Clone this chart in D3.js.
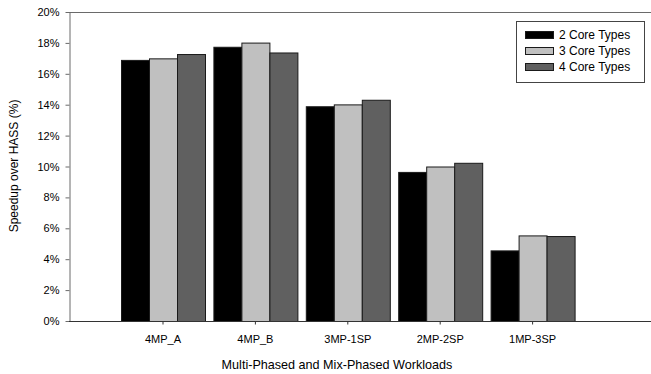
<!DOCTYPE html>
<html>
<head>
<meta charset="utf-8">
<script src="https://cdn.jsdelivr.net/npm/d3@7"></script>
<style>
  body { margin: 0; background: #fff; }
  text { font-family: "Liberation Sans", Arial, sans-serif; fill: #000; }
</style>
</head>
<body>
<script>
var workloads = ["4MP_A", "4MP_B", "3MP-1SP", "2MP-2SP", "1MP-3SP"];
var seriesNames = ["2 Core Types", "3 Core Types", "4 Core Types"];
var twoCore   = [16.9, 17.75, 13.9, 9.65, 4.57];
var threeCore = [17.0, 18.02, 14.02, 10.0, 5.54];
var fourCore  = [17.28, 17.38, 14.32, 10.24, 5.5];
var yTicks = [0, 2, 4, 6, 8, 10, 12, 14, 16, 18, 20];
var fills = ["#000000", "#c0c0c0", "#606060"];

var svg = d3.select("body").append("svg")
    .attr("width", 651)
    .attr("height", 374);

var plotLeft = 69, plotTop = 12, plotBottom = 321, plotRight = 651;

var x = d3.scaleBand()
    .domain(workloads)
    .range([116.8, 578.8])
    .paddingInner(0.0909)
    .paddingOuter(0.0455);

var xs = d3.scaleBand()
    .domain(d3.range(3))
    .range([0, x.bandwidth()]);

var y = d3.scaleLinear().domain([0, 20]).range([plotBottom, plotTop]);

var data = workloads.map(function(w, i) {
  return {name: w, values: [twoCore[i], threeCore[i], fourCore[i]]};
});

// top frame line
svg.append("line")
    .attr("x1", plotLeft).attr("x2", plotRight)
    .attr("y1", plotTop + 0.5).attr("y2", plotTop + 0.5)
    .attr("stroke", "#6a6a6a");

// bars
var group = svg.selectAll(".grp")
    .data(data)
  .enter().append("g")
    .attr("class", "grp")
    .attr("transform", function(d) { return "translate(" + x(d.name) + ",0)"; });

group.selectAll("rect")
    .data(function(d) { return d.values; })
  .enter().append("rect")
    .attr("x", function(d, i) { return xs(i) + 0.5; })
    .attr("y", function(d) { return y(d) + 0.5; })
    .attr("width", xs.bandwidth())
    .attr("height", function(d) { return plotBottom - y(d); })
    .attr("fill", function(d, i) { return fills[i]; })
    .attr("stroke", "#1a1a1a")
    .attr("stroke-width", 1);

// y axis
var yAxis = svg.append("g")
    .attr("transform", "translate(" + (plotLeft + 0.5) + ",0)")
    .call(d3.axisLeft(y).tickValues(yTicks).tickSize(4).tickSizeOuter(0)
      .tickFormat(function(d) { return d + "%"; }));
yAxis.select(".domain").attr("stroke", "#6a6a6a");
yAxis.selectAll(".tick line").attr("stroke", "#6a6a6a");
yAxis.selectAll("text").style("font-size", "11px").attr("x", -10);

// x axis
var xAxis = svg.append("g")
    .attr("transform", "translate(0," + (plotBottom + 0.5) + ")")
    .call(d3.axisBottom(x).tickSize(3).tickSizeOuter(0));
xAxis.select(".domain").attr("d", "M" + plotLeft + ",0H" + plotRight).attr("stroke", "#333");
xAxis.selectAll(".tick line").attr("stroke", "#333");
xAxis.selectAll("text").style("font-size", "11px").attr("y", 14);

// axis titles
svg.append("text")
    .attr("transform", "translate(18," + 166 + ") rotate(-90)")
    .attr("text-anchor", "middle")
    .style("font-size", "12px")
    .text("Speedup over HASS (%)");

svg.append("text")
    .attr("x", 337)
    .attr("y", 369)
    .attr("text-anchor", "middle")
    .style("font-size", "12.6px")
    .text("Multi-Phased and Mix-Phased Workloads");

// legend
var legend = svg.append("g").attr("transform", "translate(516,21)");
legend.append("rect")
    .attr("x", 0.5).attr("y", 0.5)
    .attr("width", 128).attr("height", 61)
    .attr("fill", "#fff")
    .attr("stroke", "#444");

var item = legend.selectAll(".item")
    .data(seriesNames)
  .enter().append("g")
    .attr("class", "item")
    .attr("transform", function(d, i) { return "translate(9," + (10 + i * 16) + ")"; });

item.append("rect")
    .attr("x", 0.5).attr("y", 0.5)
    .attr("width", 28).attr("height", 7)
    .attr("fill", function(d, i) { return fills[i]; })
    .attr("stroke", "#1a1a1a");

item.append("text")
    .attr("x", 34)
    .attr("y", 4)
    .attr("dy", "0.35em")
    .style("font-size", "12px")
    .text(function(d) { return d; });
</script>
</body>
</html>
